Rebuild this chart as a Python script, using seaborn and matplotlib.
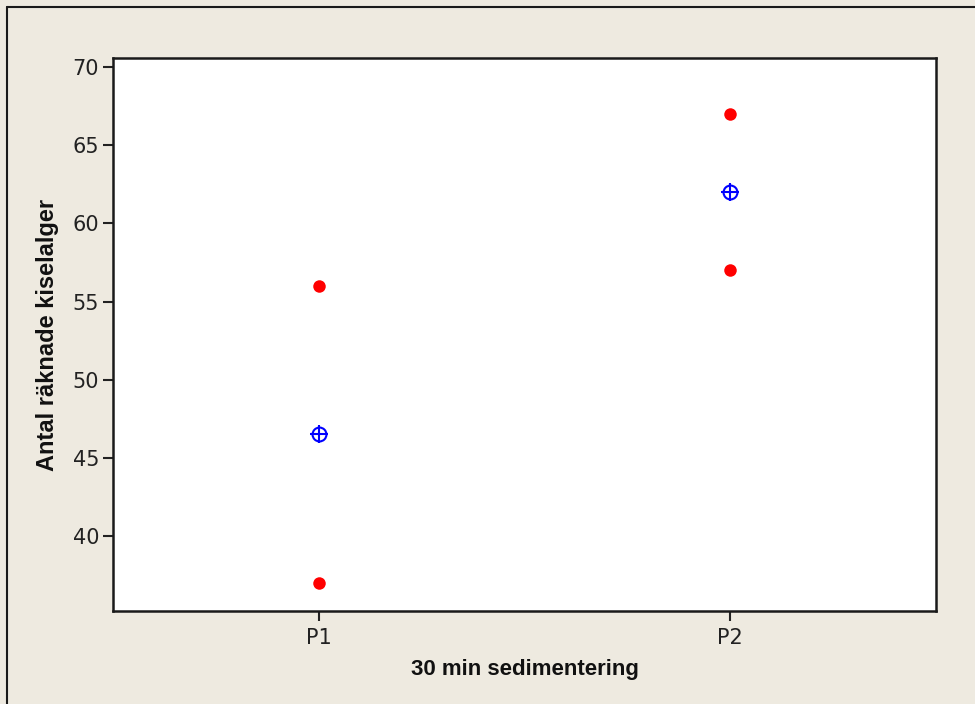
import matplotlib
matplotlib.use("Agg")
import matplotlib.pyplot as plt
import matplotlib.lines as mlines
import seaborn as sns
import pandas as pd

sns.set_style("white")

# data
groups = ["P1", "P1", "P2", "P2"]
counts = [56, 37, 67, 57]
categories = ["P1", "P2"]
y_ticks = [40, 45, 50, 55, 60, 65, 70]

df = pd.DataFrame({"grupp": groups, "antal": counts})

bg = "#EEEAE0"
tick_font = ["Liberation Sans Narrow", "DejaVu Sans"]
label_font = ["Liberation Sans", "DejaVu Sans"]

fig = plt.figure(figsize=(9.75, 7.04), dpi=100, facecolor=bg)
ax = fig.add_axes([113 / 975, 1 - 611 / 704, 823 / 975, 553 / 704])
ax.set_facecolor("white")

# individual values
sns.stripplot(data=df, x="grupp", y="antal", order=categories, jitter=False,
              color="#FF0000", size=9, linewidth=0, ax=ax, zorder=3)

# group means: circle + cross
sns.pointplot(data=df, x="grupp", y="antal", order=categories, errorbar=None,
              linestyle="none", marker="o", color="#0000FF", markersize=10,
              markerfacecolor="none", markeredgewidth=1.5, ax=ax)
sns.pointplot(data=df, x="grupp", y="antal", order=categories, errorbar=None,
              linestyle="none", marker="+", color="#0000FF", markersize=13,
              markeredgewidth=1.5, ax=ax)

ax.set_xlim(-0.5, 1.5)
ax.set_ylim(35.2, 70.58)
ax.set_yticks(y_ticks)
ax.set_yticklabels([str(v) for v in y_ticks], family=tick_font, fontsize=15, color="#222222")
ax.set_xticks(range(len(categories)))
ax.set_xticklabels(categories, family=tick_font, fontsize=15, color="#222222")
ax.tick_params(axis="both", direction="out", length=7, width=1.5, color="#222222",
               left=True, bottom=True)
ax.tick_params(axis="y", pad=3)
ax.tick_params(axis="x", pad=5)

for s in ax.spines.values():
    s.set_visible(True)
    s.set_linewidth(1.8)
    s.set_color("#1a1a1a")

ax.set_xlabel("30 min sedimentering", family=label_font, fontsize=16,
              fontweight="bold", labelpad=8, color="#111111")
ax.set_ylabel("Antal räknade kiselalger", family=label_font, fontsize=17,
              fontweight="bold", labelpad=10, color="#111111")

# outer frame (left and top edges)
fig.add_artist(mlines.Line2D([7 / 975, 7 / 975], [0, 1 - 7 / 704],
                             transform=fig.transFigure, color="#1a1a1a", lw=1.5))
fig.add_artist(mlines.Line2D([7 / 975, 1], [1 - 7 / 704, 1 - 7 / 704],
                             transform=fig.transFigure, color="#1a1a1a", lw=1.5))

plt.savefig("out.png", dpi=100, facecolor=bg)
